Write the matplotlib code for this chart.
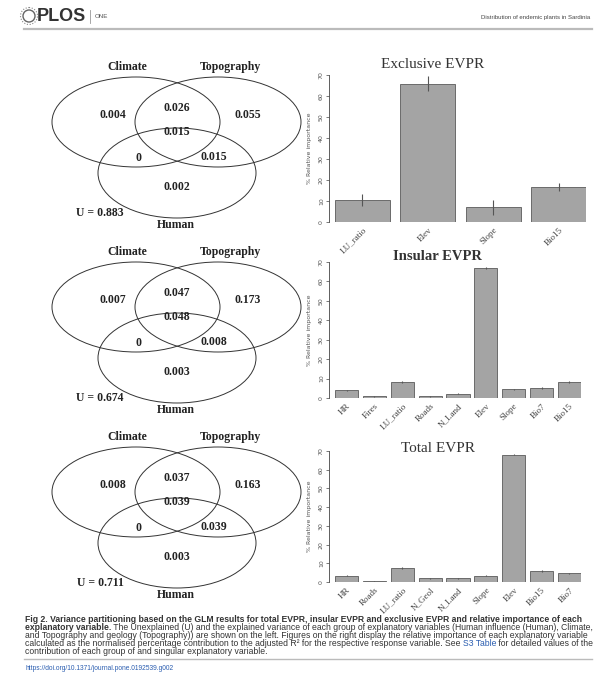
import numpy as np
import matplotlib.pyplot as plt
from matplotlib.patches import Ellipse, Circle

# variance partitioning, order: Climate only, Climate+Topo, Topo only,
# all three, Climate+Human, Topo+Human, Human only
venn_exclusive = ["0.004", "0.026", "0.055", "0.015", "0", "0.015", "0.002"]
venn_insular = ["0.007", "0.047", "0.173", "0.048", "0", "0.008", "0.003"]
venn_total = ["0.008", "0.037", "0.163", "0.039", "0", "0.039", "0.003"]
unexplained = ["0.883", "0.674", "0.711"]
groups = ["Climate", "Topography", "Human"]

# relative importance (%)
excl_vars = ["LU_ratio", "Elev", "Slope", "Bio15"]
excl_imp = [10.4, 65.8, 7.0, 16.8]
excl_err = [3.0, 3.5, 3.5, 2.0]

ins_vars = ["HR", "Fires", "LU_ratio", "Roads", "N_Land", "Elev", "Slope", "Bio7", "Bio15"]
ins_imp = [4.0, 0.9, 8.2, 0.9, 2.3, 66.8, 4.4, 5.1, 8.2]
ins_err = [0.3, 0.2, 0.5, 0.2, 0.4, 0.6, 0.4, 0.5, 0.4]

tot_vars = ["HR", "Roads", "LU_ratio", "N_Geol", "N_Land", "Slope", "Elev", "Bio15", "Bio7"]
tot_imp = [3.4, 0.4, 7.6, 2.0, 2.0, 3.4, 68.1, 6.0, 4.6]
tot_err = [0.3, 0.2, 0.4, 0.2, 0.2, 0.3, 0.5, 0.4, 0.3]

W, H = 608, 684
fig = plt.figure(figsize=(W / 100, H / 100), dpi=100)

# page layer in pixel coordinates
pg = fig.add_axes([0, 0, 1, 1])
pg.set_xlim(0, W)
pg.set_ylim(H, 0)
pg.axis("off")

serif = "Liberation Serif"
sans = "Liberation Sans"

# header
pg.add_patch(Circle((29, 16), 6, fill=False, ec="#666666", lw=1.0))
pg.add_patch(Circle((29, 16), 8.5, fill=False, ec="#888888", lw=0.8, ls=(0, (1, 1.5))))
pg.text(37, 16.5, "PLOS", fontsize=13, fontweight="bold", family=sans,
        color="#333333", va="center", ha="left")
pg.plot([90, 90], [10, 23], color="#999999", lw=0.6)
pg.text(95, 16.5, "ONE", fontsize=4.5, family=sans, color="#555555", va="center")
pg.text(590, 17, "Distribution of endemic plants in Sardinia", fontsize=4.3,
        family=sans, color="#444444", ha="right", va="center")
pg.plot([24, 592], [29, 29], color="#bbbbbb", lw=1.6)

# venn diagrams
venn_sets = [venn_exclusive, venn_insular, venn_total]
label_y = [67, 252, 437]
val_pos = [(113, 48), (177, 41), (248, 48), (177, 65), (138, 91), (214, 90), (177, 120)]
vfont = dict(family=serif, fontweight="bold", fontsize=8.5, ha="center", va="center",
             color="#222222")
for vals, u, L in zip(venn_sets, unexplained, label_y):
    pg.add_patch(Ellipse((136, L + 55), 168, 90, fill=False, ec="#333333", lw=0.7))
    pg.add_patch(Ellipse((218, L + 55), 166, 90, fill=False, ec="#333333", lw=0.7))
    pg.add_patch(Ellipse((177, L + 106), 158, 90, fill=False, ec="#333333", lw=0.7))
    pg.text(127, L, groups[0], **vfont)
    pg.text(230, L, groups[1], **vfont)
    pg.text(176, L + 158, groups[2], **vfont)
    pg.text(100, L + 146, "U = " + u, **vfont)
    for v, (x, dy) in zip(vals, val_pos):
        pg.text(x, L + dy, v, **vfont)


def bar_panel(rect, names, imp, err, title, tx, ty, bold=False):
    ax = fig.add_axes([rect[0] / W, 1 - rect[3] / H, (rect[2] - rect[0]) / W,
                       (rect[3] - rect[1]) / H])
    ax.set_facecolor("none")
    x = np.arange(len(names)) * 1.2 + 0.7
    ax.bar(x, imp, width=1.0, color="#a4a4a4", edgecolor="#5a5a5a", linewidth=0.6)
    ax.errorbar(x, imp, yerr=err, fmt="none", ecolor="#555555", elinewidth=0.8, capsize=0)
    ax.set_xlim(0.2, 1.2 * len(names))
    ax.set_ylim(0, 70)
    for s in ["top", "right", "bottom"]:
        ax.spines[s].set_visible(False)
    ax.spines["left"].set_position(("outward", 4))
    ax.spines["left"].set_linewidth(0.6)
    ax.spines["left"].set_color("#444444")
    ax.set_yticks(range(0, 71, 10))
    ax.tick_params(axis="y", length=2.5, width=0.5, pad=1.5, labelsize=4.5,
                   labelcolor="#555555", color="#444444")
    for lab in ax.get_yticklabels():
        lab.set_rotation(90)
        lab.set_va("center")
    ax.set_xticks(x)
    ax.set_xticklabels(names, rotation=45, ha="right", rotation_mode="anchor",
                       family=serif, fontsize=6.5, color="#444444")
    ax.tick_params(axis="x", length=0, pad=3)
    ax.set_ylabel("% Relative importance", fontsize=4.5, color="#555555")
    ax.yaxis.set_label_coords((312 - rect[0]) / (rect[2] - rect[0]), 0.5)
    pg.text(tx, ty, title, family=serif, fontsize=11 if not bold else 10.5,
            fontweight="bold" if bold else "normal", ha="center", va="center",
            color="#333333")
    return ax


bar_panel((335, 75, 586, 222), excl_vars, excl_imp, excl_err, "Exclusive EVPR", 433, 65)
bar_panel((335, 262, 581, 398), ins_vars, ins_imp, ins_err, "Insular EVPR", 437, 256, bold=True)
bar_panel((335, 451, 581, 582), tot_vars, tot_imp, tot_err, "Total EVPR", 438, 448)

# caption
fs = 6.2
cap = dict(family=sans, fontsize=fs, color="#333333", ha="left", va="center")
pg.text(25, 620, "Fig 2. Variance partitioning based on the GLM results for total EVPR, "
        "insular EVPR and exclusive EVPR and relative importance of each",
        fontweight="bold", **cap)
t = pg.text(25, 628, "explanatory variable.", fontweight="bold", **cap)
pg.annotate(" The Unexplained (U) and the explained variance of each group of explanatory "
            "variables (Human influence (Human), Climate,",
            xycoords=t, xy=(1, 0.5), va="center", ha="left", family=sans,
            fontsize=fs, color="#333333")
pg.text(25, 636, "and Topography and geology (Topography)) are shown on the left. Figures on "
        "the right display the relative importance of each explanatory variable", **cap)
t = pg.text(25, 644, "calculated as the normalised percentage contribution to the adjusted "
            "R\u00b2 for the respective response variable. See ", **cap)
t2 = pg.annotate("S3 Table", xycoords=t, xy=(1, 0.5), va="center", ha="left",
                 family=sans, fontsize=fs, color="#2a5db0")
pg.annotate(" for detailed values of the", xycoords=t2, xy=(1, 0.5), va="center",
            ha="left", family=sans, fontsize=fs, color="#333333")
pg.text(25, 652, "contribution of each group of and singular explanatory variable.", **cap)
pg.plot([24, 592], [659, 659], color="#bbbbbb", lw=1.0)
pg.text(25, 668, "https://doi.org/10.1371/journal.pone.0192539.g002", family=sans,
        fontsize=4.8, color="#2a5db0", ha="left", va="center")

fig.savefig("out.png", dpi=100)
